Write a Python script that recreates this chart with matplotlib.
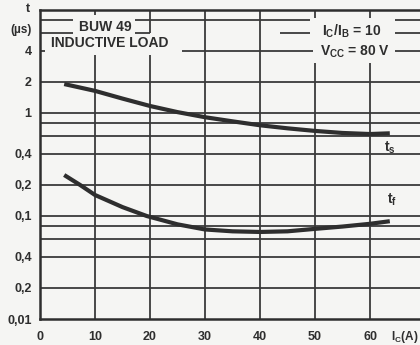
import matplotlib
matplotlib.use("Agg")
import matplotlib.pyplot as plt

# ---- data ----
ic_ts = [4.4, 10, 15, 20, 25, 30, 35, 40, 45, 50, 55, 60, 63.6]
ts_us = [1.91, 1.64, 1.38, 1.17, 1.02, 0.91, 0.83, 0.76, 0.71, 0.67, 0.64, 0.625, 0.635]
ic_tf = [4.4, 7.3, 10, 15, 19.4, 25, 30, 35, 40, 45, 50, 55, 60, 63.6]
tf_us = [0.25, 0.20, 0.16, 0.122, 0.10, 0.083, 0.074, 0.071, 0.070, 0.071, 0.075, 0.079, 0.084, 0.089]

x_ticks = [0, 10, 20, 30, 40, 50, 60]
x_tick_labels = ["0", "10", "20", "30", "40", "50", "60"]
y_ticks = [4, 2, 1, 0.4, 0.2, 0.1, 0.04, 0.02, 0.01]
y_tick_labels = ["4", "2", "1", "0,4", "0,2", "0,1", "0,4", "0,2", "0,01"]
full_hlines = [2, 1, 0.8, 0.6, 0.4, 0.2, 0.1, 0.08, 0.06, 0.04, 0.02]

W, H = 420, 345
BG = "#f5f5f3"
INK = "#2e2e2e"
GRID = "#3a3a3a"
plt.rcParams['font.family'] = ['Liberation Sans', 'DejaVu Sans']

fig = plt.figure(figsize=(W / 100, H / 100), dpi=100, facecolor=BG)
ax = fig.add_axes([40 / W, 26 / H, 385 / W, 309 / H], facecolor=BG)
ax.set_xlim(0, 70)
ax.set_ylim(0.01, 10)
ax.set_yscale("log")

lw_grid = 1.3
for v in full_hlines:
    ax.axhline(v, color=GRID, lw=lw_grid, zorder=1)
partial = {
    8: [(0, 6), (17.3, 49), (64.5, 70)],
    6: [(0, 6), (17.3, 20), (43.6, 49), (64.5, 70)],
    4: [(0, 0.9), (25.8, 49.6), (64.5, 70)],
}
for v, segs in partial.items():
    for a, b in segs:
        ax.hlines(v, a, b, color=GRID, lw=lw_grid, zorder=1)

vsegs = {
    10: [(0.01, 3.66), (8.9, 10)],
    20: [(0.01, 3.66), (6.0, 10)],
    30: [(0.01, 10)],
    40: [(0.01, 10)],
    50: [(0.01, 3.06), (8.4, 10)],
    60: [(0.01, 3.06), (8.4, 10)],
}
for xv, segs in vsegs.items():
    for a, b in segs:
        ax.vlines(xv, a, b, color=GRID, lw=lw_grid, zorder=1)

for s in ["left", "bottom", "top"]:
    ax.spines[s].set_color(INK)
    ax.spines[s].set_linewidth(1.8)
ax.spines["right"].set_visible(False)

# curves
ax.plot(ic_ts, ts_us, color=INK, lw=3.0, solid_capstyle="butt", solid_joinstyle="round", zorder=3)
ax.plot(ic_tf, tf_us, color=INK, lw=3.0, solid_capstyle="butt", solid_joinstyle="round", zorder=3)

# ticks
ax.set_xticks(x_ticks)
ax.set_xticklabels(x_tick_labels, fontsize=9, fontweight="bold", color=INK)
ax.set_yticks(y_ticks)
ax.set_yticklabels(y_tick_labels, fontsize=9, fontweight="bold", color=INK)
ax.yaxis.set_minor_locator(matplotlib.ticker.NullLocator())
ax.tick_params(axis="both", length=0)
ax.tick_params(axis="y", pad=6)
ax.tick_params(axis="x", pad=9)

# annotations
tkw = dict(fontsize=10, fontweight="bold", color=INK, ha="center", va="center")
ax.text(11.8, 6.84, "BUW 49", **tkw)
ax.text(12.6, 4.75, "INDUCTIVE LOAD", **tkw)
ax.text(56.6, 6.25, r"I$_\mathregular{C}$/I$_\mathregular{B}$ = 10", **tkw)
ax.text(57.2, 3.95, r"V$_\mathregular{CC}$ = 80 V", **tkw)
ax.text(63.6, 0.457, r"t$_\mathregular{s}$", **tkw)
ax.text(64.0, 0.143, r"t$_\mathregular{f}$", **tkw)

fig.text(28 / W, 1 - 9 / H, "t", fontsize=9, fontweight="bold", color=INK, ha="center", va="center")
fig.text(21 / W, 1 - 30 / H, "(µs)", fontsize=8.5, fontweight="bold", color=INK, ha="center", va="center")
fig.text(418 / W, 1 - 337 / H, r"I$_\mathregular{C}$(A)", fontsize=8.5, fontweight="bold", color=INK, ha="right", va="center")

fig.savefig("out.png", dpi=100, facecolor=BG)
